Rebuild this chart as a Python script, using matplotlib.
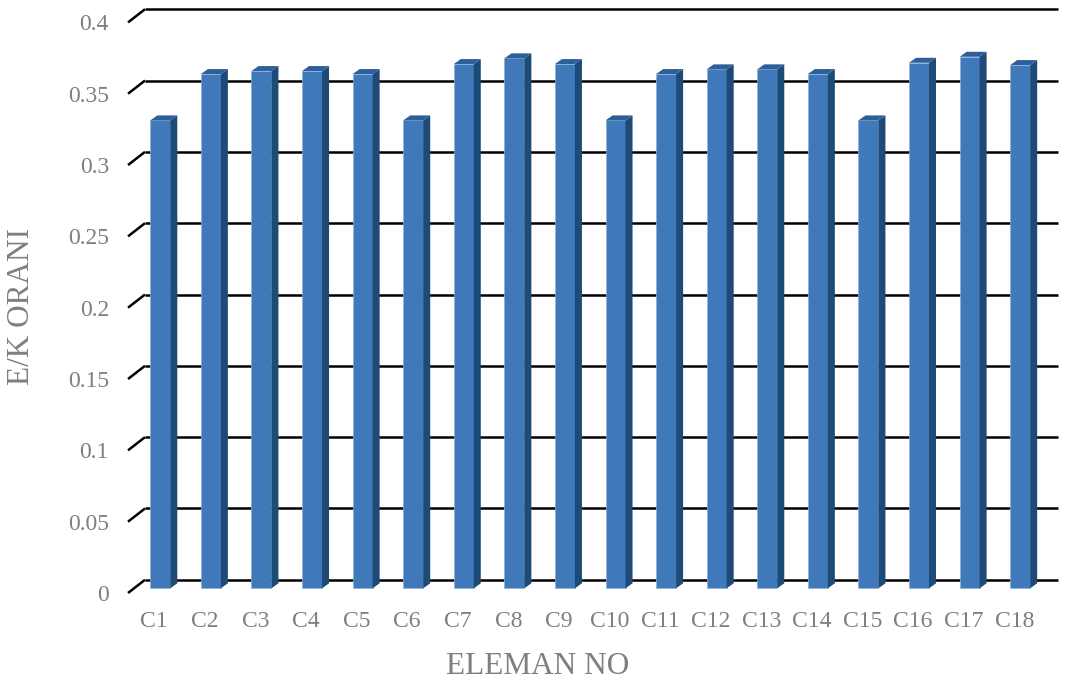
import matplotlib
matplotlib.use("Agg")
import matplotlib.pyplot as plt
from matplotlib.patches import Polygon
from matplotlib.transforms import ScaledTranslation

plt.rcParams['font.family'] = ['Liberation Serif', 'DejaVu Serif']

# ---- data ----
categories = ['C1', 'C2', 'C3', 'C4', 'C5', 'C6', 'C7', 'C8', 'C9',
              'C10', 'C11', 'C12', 'C13', 'C14', 'C15', 'C16', 'C17', 'C18']
values = [0.328, 0.3605, 0.3626, 0.3626, 0.3605, 0.328, 0.3675, 0.3715, 0.3675,
          0.328, 0.3605, 0.3638, 0.3638, 0.3605, 0.328, 0.3684, 0.3726, 0.3668]
yticks = [0, 0.05, 0.1, 0.15, 0.2, 0.25, 0.3, 0.35, 0.4]
ytick_labels = ['0', '0.05', '0.1', '0.15', '0.2', '0.25', '0.3', '0.35', '0.4']
xlabel = 'ELEMAN NO'
ylabel = 'E/K ORANI'

# ---- style ----
W, H = 1067, 688
DPI = 100
front_c = '#3f79b9'
side_c = '#1d4a77'
top_c = '#2d609a'
edge_c = '#8fb0da'
grid_c = 'black'
text_c = '#7f7f7f'

fig = plt.figure(figsize=(W / DPI, H / DPI), dpi=DPI)
ax_l, ax_r, ax_t, ax_b = 134, 1047, 17.7, 588.3
ax = fig.add_axes([ax_l / W, 1 - ax_b / H, (ax_r - ax_l) / W, (ax_b - ax_t) / H])
xlim = (-0.52, 17.53)
ylim = (0, 0.4)
ax.set_xlim(*xlim)
ax.set_ylim(*ylim)
for s in ax.spines.values():
    s.set_visible(False)
ax.set_facecolor('none')

# pixel -> data conversions
ppx = (ax_r - ax_l) / (xlim[1] - xlim[0])
ppy = (ax_b - ax_t) / (ylim[1] - ylim[0])

# depth offsets (pixels), relative to the bar-front plane
BX, BY = 11.0, 8.5     # back wall
FX, FY = -6.0, -4.7    # front edge of floor / wall
DX, DY = 7.0, 5.0      # bar depth

bdx, bdy = BX / ppx, BY / ppy
fdx, fdy = FX / ppx, FY / ppy
ddx, ddy = DX / ppx, DY / ppy

x0, x1 = xlim
# back-wall gridlines and left-wall diagonals
for v in yticks:
    ax.plot([x0 + bdx, x1 + bdx], [v + bdy, v + bdy], color=grid_c, lw=1.8,
            clip_on=False, zorder=1, solid_capstyle='butt')
    ax.plot([x0 + fdx, x0 + bdx], [v + fdy, v + bdy], color=grid_c, lw=1.8,
            clip_on=False, zorder=1, solid_capstyle='butt')

# bars
xs = list(range(len(categories)))
bw = 0.395
ax.bar(xs, values, width=bw, color=front_c, edgecolor=edge_c, linewidth=0.5,
       zorder=3, clip_on=False)
for x, v in zip(xs, values):
    xl, xr = x - bw / 2, x + bw / 2
    side = Polygon([(xr, 0), (xr + ddx, ddy), (xr + ddx, v + ddy), (xr, v)],
                   closed=True, facecolor=side_c, edgecolor='none', zorder=3,
                   clip_on=False)
    top = Polygon([(xl, v), (xr, v), (xr + ddx, v + ddy), (xl + ddx, v + ddy)],
                  closed=True, facecolor=top_c, edgecolor='none', zorder=3,
                  clip_on=False)
    ax.add_patch(side)
    ax.add_patch(top)

# ticks
ax.set_xticks(xs, categories)
ax.set_yticks(yticks, ytick_labels)
ax.tick_params(axis='both', length=0, labelsize=17, labelcolor=text_c)
ax.tick_params(axis='y', pad=13.7)
ax.tick_params(axis='x', pad=13)
shift = ScaledTranslation(FX / DPI, FY / DPI, fig.dpi_scale_trans)
for lbl in ax.get_xticklabels() + ax.get_yticklabels():
    lbl.set_transform(lbl.get_transform() + shift)

# axis titles
fig.text(538 / W, 1 - 666 / H, xlabel, ha='center', va='center',
         fontsize=22.5, color=text_c)
fig.text(21.5 / W, 1 - 306.7 / H, ylabel, ha='center', va='center',
         rotation=90, fontsize=22.5, color=text_c)

fig.savefig('out.png', dpi=DPI)
